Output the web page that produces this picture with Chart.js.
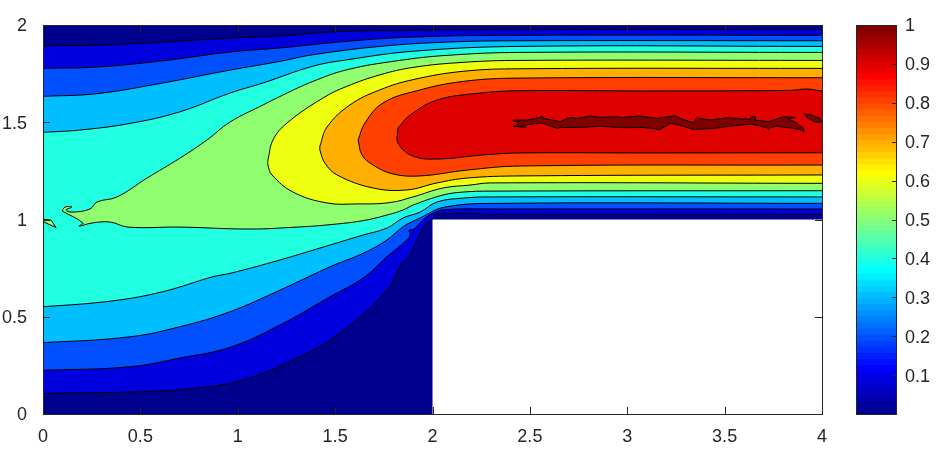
<!DOCTYPE html>
<html>
<head>
<meta charset="utf-8">
<title>Contour plot</title>
<script src="https://cdn.jsdelivr.net/npm/chart.js@4"></script>
<style>
html, body { margin: 0; padding: 0; background: #fff; }
canvas { position: absolute; top: 0; }
#contour { left: 0; }
#bar { left: 800px; }
</style>
</head>
<body>
<canvas id="contour" width="940" height="455"></canvas>
<canvas id="bar" width="140" height="455"></canvas>
<script>
// Tick values
const xTickValues = [0, 0.5, 1, 1.5, 2, 2.5, 3, 3.5, 4];
const yTickValues = [0, 0.5, 1, 1.5, 2];
const barTickValues = [0.1, 0.2, 0.3, 0.4, 0.5, 0.6, 0.7, 0.8, 0.9, 1];

// Flow domain, the step at x>2, y<1 stays empty
const domain = [[0,0],[2,0],[2,1],[4,1],[4,2],[0,2]];

// Contour outlines, [x, y] in data units, one list per filled level.
// Points past x=0 and x=4 get clipped, they only keep the curves flat at the frame.
const level1 = [[0,1.893],[.293,1.897],[.616,1.912],[.96,1.933],[1.217,1.944],[1.474,1.964],[1.731,1.971],[2.449,1.976],[4,1.976],[4.1,1.976],
  [4.1,1.027],[4,1.027],[2.347,1.027],[2.023,1.028],[2,1.002],[1.962,.972],[1.92,.895],[1.874,.802],[1.843,.776],[1.766,.637],
  [1.525,.416],[1.304,.288],[1.027,.175],[.791,.134],[.498,.115],[0,.106],[-.1,.106],[-.1,1.893]];
const level2 = [[0,1.777],[.277,1.784],[.616,1.816],[.96,1.861],[1.217,1.882],[1.561,1.916],[1.9,1.938],[2.449,1.947],[4,1.947],[4.1,1.947],
  [4.1,1.054],[4,1.054],[2.347,1.054],[2.064,1.051],[2.003,1.033],[1.951,.997],[1.905,.95],[1.88,.945],[1.885,.92],[1.869,.895],[1.766,.809],
  [1.643,.699],[1.474,.603],[1.217,.458],[.96,.343],[.704,.288],[.447,.243],[0,.225],[-.1,.225],[-.1,1.777]];
const level3 = [[0,1.633],[.277,1.647],[.616,1.702],[.96,1.768],[1.217,1.813],[1.386,1.847],[1.731,1.89],[2.075,1.912],[2.449,1.919],[4,1.919],[4.1,1.919],
  [4.1,1.083],[4,1.083],[2.347,1.083],[2.064,1.064],[1.936,1.008],[1.849,.963],[1.766,.895],[1.643,.826],[1.474,.757],[1.217,.637],
  [.96,.526],[.704,.449],[.447,.397],[0,.367],[-.1,.367],[-.1,1.633]];
const level4 = [[0,1.448],[.19,1.46],[.447,1.494],[.704,1.554],[.96,1.65],[1.13,1.702],[1.386,1.788],[1.561,1.821],[1.9,1.865],
  [2.449,1.89],[4,1.89],[4.1,1.89],[4.1,1.116],[4,1.116],[2.295,1.116],[2.157,1.11],[2.023,1.09],[1.936,1.038],[1.849,1.008],[1.766,.956],
  [1.643,.92],[1.474,.869],[1.217,.792],[.96,.723],[.873,.706],[.616,.629],[.359,.582],[0,.552],[-.1,.552],[-.1,1.448]];
const level5 = [[.098,1.044],[.113,1.064],[.149,1.064],[.118,1.049],[.149,1.038],[.241,1.054],[.277,1.09],[.38,1.116],
  [.534,1.213],[.704,1.316],[.842,1.409],[.96,1.501],[1.13,1.589],[1.232,1.64],[1.386,1.71],[1.561,1.77],[1.818,1.816],
  [2.075,1.844],[2.449,1.859],[4,1.859],[4.1,1.859],[4.1,1.148],[4,1.148],[2.295,1.146],[2.157,1.141],[2.054,1.126],[1.9,1.074],[1.849,1.049],
  [1.766,1.023],[1.643,.994],[1.458,.972],[1.304,.961],[1.063,.951],[.704,.961],[.436,.961],[.344,.987],[.252,.982],[.185,.966],[.205,.982]];
const level5Sliver = [[.005,1.001],[.041,.997],[.067,.959],[.026,.977],[0,.99]];
const level6 = [[1.155,1.306],[1.181,1.409],[1.253,1.496],[1.438,1.625],[1.561,1.685],[1.731,1.744],[1.9,1.782],[2.157,1.808],
  [2.449,1.818],[4,1.818],[4.1,1.818],[4.1,1.186],[4,1.186],[2.295,1.188],[2.193,1.177],[2.054,1.162],[1.9,1.116],[1.782,1.087],[1.612,1.08],
  [1.458,1.085],[1.284,1.141],[1.176,1.229],[1.155,1.28]];
const level7 = [[1.422,1.378],[1.458,1.475],[1.576,1.589],[1.731,1.667],[1.9,1.719],[2.157,1.762],[2.449,1.775],[4,1.777],[4.1,1.777],
  [4.1,1.229],[4,1.229],[2.449,1.224],[2.177,1.213],[2.023,1.188],[1.869,1.152],[1.695,1.162],[1.51,1.229],[1.448,1.29],[1.422,1.357]];
const level8 = [[1.618,1.409],[1.653,1.496],[1.746,1.599],[1.92,1.662],[2.157,1.71],[2.449,1.727],[4,1.729],[4.1,1.729],
  [4.1,1.28],[4,1.28],[2.449,1.275],[2.177,1.254],[1.936,1.224],[1.797,1.234],[1.695,1.28],[1.638,1.332]];
const level9 = [[1.823,1.47],[1.885,1.537],[2.023,1.614],[2.244,1.65],[2.449,1.662],[3.117,1.661],[3.836,1.664],[3.923,1.671],[4,1.661],[4.1,1.661],
  [4.1,1.343],[4,1.343],[3.117,1.342],[2.449,1.342],[2.259,1.332],[2.028,1.311],[1.9,1.326],[1.823,1.393]];
const level10 = [[2.415,1.511],[2.484,1.511],[2.552,1.525],[2.561,1.533],[2.57,1.52],[2.655,1.503],[2.706,1.525],[2.749,1.52],
  [2.809,1.532],[2.86,1.525],[2.938,1.528],[2.98,1.525],[3.066,1.532],[3.151,1.52],[3.246,1.533],[3.271,1.52],[3.34,1.497],
  [3.357,1.523],[3.425,1.511],[3.511,1.523],[3.631,1.515],[3.634,1.528],[3.656,1.528],[3.656,1.511],[3.725,1.503],[3.802,1.528],
  [3.862,1.525],[3.828,1.515],[3.87,1.497],[3.905,1.468],[3.908,1.451],[3.896,1.46],[3.853,1.468],[3.768,1.48],[3.737,1.473],
  [3.725,1.463],[3.713,1.473],[3.639,1.491],[3.528,1.48],[3.442,1.468],[3.34,1.463],[3.271,1.485],[3.22,1.494],[3.169,1.463],
  [3.083,1.473],[2.98,1.472],[2.86,1.48],[2.758,1.473],[2.655,1.473],[2.641,1.468],[2.561,1.497],[2.467,1.485],[2.481,1.473],
  [2.415,1.48],[2.45,1.494],[2.415,1.508]];
const level10Edge = [[3.908,1.544],[3.947,1.537],[3.99,1.52],[4,1.503],[3.965,1.501],[3.93,1.52]];

const contourShapes = [domain, level1, level2, level3, level4, level5, level5Sliver, level6, level7, level8, level9, level10, level10Edge];
const shapeColors = ["#00008F", "#0000DF", "#0050FF", "#00BFFF", "#20FFDF", "#8FFF70", "#8FFF70", "#EFFF10", "#FFAF00", "#FF4000", "#DF0000", "#800000", "#800000"];
// Ragged shapes keep their corners, the rest are drawn as smooth curves
const jaggedShapes = [domain, level5Sliver, level10, level10Edge];

// Colorbar bands, bottom to top
const barColors = ["#00008F","#00009F","#0000AF","#0000BF","#0000CF","#0000DF","#0000EF","#0000FF",
  "#0010FF","#0020FF","#0030FF","#0040FF","#0050FF","#0060FF","#0070FF","#0080FF",
  "#008FFF","#009FFF","#00AFFF","#00BFFF","#00CFFF","#00DFFF","#00EFFF","#00FFFF",
  "#10FFEF","#20FFDF","#30FFCF","#40FFBF","#50FFAF","#60FF9F","#70FF8F","#80FF80",
  "#8FFF70","#9FFF60","#AFFF50","#BFFF40","#CFFF30","#DFFF20","#EFFF10","#FFFF00",
  "#FFEF00","#FFDF00","#FFCF00","#FFBF00","#FFAF00","#FF9F00","#FF8F00","#FF8000",
  "#FF7000","#FF6000","#FF5000","#FF4000","#FF3000","#FF2000","#FF1000","#FF0000",
  "#EF0000","#DF0000","#CF0000","#BF0000","#AF0000","#9F0000","#8F0000","#800000"];
const barTops = [.0156,.0313,.0469,.0625,.0781,.0938,.1094,.125,.1406,.1563,.1719,.1875,.2031,.2188,.2344,.25,
  .2656,.2813,.2969,.3125,.3281,.3438,.3594,.375,.3906,.4063,.4219,.4375,.4531,.4688,.4844,.5,
  .5156,.5313,.5469,.5625,.5781,.5938,.6094,.625,.6406,.6563,.6719,.6875,.7031,.7188,.7344,.75,
  .7656,.7813,.7969,.8125,.8281,.8438,.8594,.875,.8906,.9063,.9219,.9375,.9531,.9688,.9844,1];

const axisColor = "#262626";
const tickFont = { family: "'Liberation Sans', Arial, sans-serif", size: 18 };

Chart.defaults.animation = false;

// Box round the plot and inward ticks on all four sides
const contourFrame = {
    id: "contourFrame",
    afterDatasetsDraw(chart) {
        const { ctx, chartArea: a, scales } = chart;
        ctx.save();
        ctx.strokeStyle = axisColor;
        ctx.lineWidth = 1;
        ctx.strokeRect(a.left + 0.5, a.top + 0.5, a.right - a.left, a.bottom - a.top);
        ctx.beginPath();
        xTickValues.slice(1, -1).forEach(v => {
            const x = Math.round(scales.x.getPixelForValue(v)) + 0.5;
            ctx.moveTo(x, a.bottom); ctx.lineTo(x, a.bottom - 7);
            ctx.moveTo(x, a.top); ctx.lineTo(x, a.top + 7);
        });
        yTickValues.slice(1, -1).forEach(v => {
            const y = Math.round(scales.y.getPixelForValue(v)) + 0.5;
            ctx.moveTo(a.left, y); ctx.lineTo(a.left + 7, y);
            ctx.moveTo(a.right, y); ctx.lineTo(a.right - 7, y);
        });
        ctx.stroke();
        ctx.restore();
    }
};

new Chart(document.getElementById("contour"), {
    type: "scatter",
    data: {
        datasets: contourShapes.map((shape, i) => ({
            data: shape.concat([shape[0]]).map(p => ({ x: p[0], y: p[1] })),
            showLine: true,
            fill: "shape",
            tension: jaggedShapes.includes(shape) ? 0 : 0.4,
            pointRadius: 0,
            borderWidth: i === 0 ? 0 : 1,
            borderColor: "#000",
            backgroundColor: shapeColors[i],
            order: contourShapes.length - i
        }))
    },
    options: {
        responsive: false,
        devicePixelRatio: 1,
        layout: { padding: { top: 25, right: 118, left: 0, bottom: 0 } },
        plugins: { legend: { display: false }, tooltip: { enabled: false } },
        scales: {
            x: {
                type: "linear", min: 0, max: 4,
                grid: { display: false }, border: { display: false },
                afterBuildTicks: s => { s.ticks = xTickValues.map(v => ({ value: v })); },
                afterFit: s => { s.height = 41; },
                ticks: { color: axisColor, font: tickFont, padding: 4, maxRotation: 0, autoSkip: false, callback: v => String(v) }
            },
            y: {
                type: "linear", min: 0, max: 2,
                grid: { display: false }, border: { display: false },
                afterBuildTicks: s => { s.ticks = yTickValues.map(v => ({ value: v })); },
                afterFit: s => { s.width = 43; },
                ticks: { color: axisColor, font: tickFont, padding: 8, labelOffset: 1.5, autoSkip: false, callback: v => String(v) }
            }
        }
    },
    plugins: [contourFrame]
});

// Colorbar frame with short ticks on the right side only
const barFrame = {
    id: "barFrame",
    afterDatasetsDraw(chart) {
        const { ctx, chartArea: a, scales } = chart;
        ctx.save();
        ctx.strokeStyle = axisColor;
        ctx.lineWidth = 1;
        ctx.strokeRect(a.left + 0.5, a.top + 0.5, a.right - a.left, a.bottom - a.top);
        ctx.beginPath();
        barTickValues.slice(0, -1).forEach(v => {
            const y = Math.round(scales.y.getPixelForValue(v)) + 0.5;
            ctx.moveTo(a.right, y); ctx.lineTo(a.right - 4, y);
        });
        ctx.stroke();
        ctx.restore();
    }
};

new Chart(document.getElementById("bar"), {
    type: "bar",
    data: {
        labels: [""],
        datasets: barTops.map((top, i) => ({
            data: [top],
            backgroundColor: barColors[i],
            borderWidth: 0,
            grouped: false,
            barPercentage: 1,
            categoryPercentage: 1
        }))
    },
    options: {
        responsive: false,
        devicePixelRatio: 1,
        layout: { padding: { top: 25, bottom: 41, left: 56, right: 0 } },
        plugins: { legend: { display: false }, tooltip: { enabled: false } },
        scales: {
            x: { display: false },
            y: {
                position: "right", min: 0, max: 1,
                grid: { display: false }, border: { display: false },
                afterBuildTicks: s => { s.ticks = barTickValues.map(v => ({ value: v })); },
                afterFit: s => { s.width = 44; },
                ticks: { color: axisColor, font: tickFont, padding: 1, labelOffset: 1.5, autoSkip: false, callback: v => String(v) }
            }
        }
    },
    plugins: [barFrame]
});
</script>
</body>
</html>
